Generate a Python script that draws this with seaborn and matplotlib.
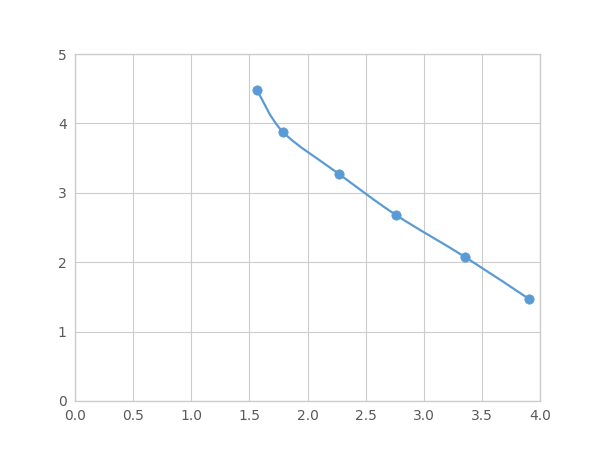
import numpy as np
import pandas as pd
import matplotlib
matplotlib.use("Agg")
import matplotlib.pyplot as plt
import seaborn as sns
from matplotlib.path import Path
from matplotlib.patches import PathPatch

# data
x_vals = [1.566, 1.789, 2.271, 2.761, 3.355, 3.905]
y_vals = [4.48, 3.876, 3.271, 2.68, 2.075, 1.47]
x_ticks = [0.0, 0.5, 1.0, 1.5, 2.0, 2.5, 3.0, 3.5, 4.0]
y_ticks = [0, 1, 2, 3, 4, 5]

df = pd.DataFrame({"x": x_vals, "y": y_vals})

grid_col = "#CCCCCC"
sns.set_style("whitegrid", {"grid.color": grid_col, "axes.edgecolor": grid_col})
plt.rcParams["font.family"] = ["DejaVu Sans"]

fig = plt.figure(figsize=(6, 4.5), dpi=100)
ax = fig.add_axes([0.125, 0.109, 0.775, 0.771])

blue = "#5B9BD5"

# smoothed line (cardinal spline as Bezier segments, like a spreadsheet "smooth line")
pts = df[["x", "y"]].to_numpy()
n = len(pts)
verts = [tuple(pts[0])]
codes = [Path.MOVETO]
for i in range(n - 1):
    p0 = pts[i - 1] if i > 0 else pts[i]
    p1 = pts[i]
    p2 = pts[i + 1]
    p3 = pts[i + 2] if i + 2 < n else pts[i + 1]
    c1 = p1 + (p2 - p0) / 6
    c2 = p2 - (p3 - p1) / 6
    verts += [tuple(c1), tuple(c2), tuple(p2)]
    codes += [Path.CURVE4] * 3
ax.add_patch(PathPatch(Path(verts, codes), facecolor="none", edgecolor=blue, lw=1.6, zorder=2))

sns.scatterplot(data=df, x="x", y="y", ax=ax, color=blue, s=45, edgecolor=blue, zorder=3)

ax.set_xlim(0, 4)
ax.set_ylim(0, 5)
ax.set_xticks(x_ticks)
ax.set_xticklabels([f"{t:.1f}" for t in x_ticks])
ax.set_yticks(y_ticks)
ax.set_xlabel("")
ax.set_ylabel("")
ax.tick_params(colors="#595959", labelsize=10, length=0, pad=6)
for s in ax.spines.values():
    s.set_color(grid_col)
    s.set_linewidth(1)

fig.savefig("out.png", dpi=100)
